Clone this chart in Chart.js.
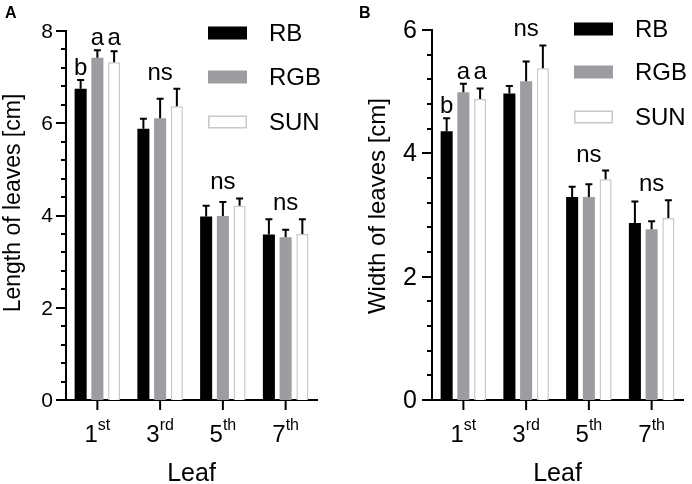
<!DOCTYPE html>
<html>
<head>
<meta charset="utf-8">
<script src="https://cdn.jsdelivr.net/npm/chart.js@4.4.0/dist/chart.umd.min.js"></script>
<style>
  body { margin: 0; background: #fff; }
  .wrap { position: relative; width: 692px; height: 484px; }
  canvas { position: absolute; top: 0; }
</style>
</head>
<body>
<div class="wrap">
  <canvas id="chartA" width="346" height="484" style="left:0;width:346px;height:484px"></canvas>
  <canvas id="chartB" width="346" height="484" style="left:346px;width:346px;height:484px"></canvas>
</div>
<script>
// leaf number + ordinal suffix (drawn as superscript)
const leaves = ['1', '3', '5', '7'];
const suffixes = ['st', 'rd', 'th', 'th'];
const groups = ['RB', 'RGB', 'SUN'];

// panel A: length of leaves [cm]
const lengthRB = [6.75, 5.88, 3.98, 3.59];
const lengthRGB = [7.42, 6.11, 3.99, 3.53];
const lengthSUN = [7.32, 6.37, 4.21, 3.60];
const lengthErrRB = [0.19, 0.22, 0.23, 0.33];
const lengthErrRGB = [0.16, 0.42, 0.30, 0.16];
const lengthErrSUN = [0.24, 0.38, 0.16, 0.32];
const lengthLetters = [['b', 'a', 'a'], ['ns'], ['ns'], ['ns']];
const lengthTicks = [0, 2, 4, 6, 8];

// panel B: width of leaves [cm]
const widthRB = [4.36, 4.97, 3.29, 2.87];
const widthRGB = [4.99, 5.17, 3.29, 2.77];
const widthSUN = [4.88, 5.38, 3.58, 2.95];
const widthErrRB = [0.21, 0.12, 0.17, 0.35];
const widthErrRGB = [0.14, 0.32, 0.21, 0.13];
const widthErrSUN = [0.17, 0.37, 0.14, 0.29];
const widthLetters = [['b', 'a', 'a'], ['ns'], ['ns'], ['ns']];
const widthTicks = [0, 2, 4, 6];

const minorStep = 0.4;
const FONT = "'Liberation Sans', Arial, sans-serif";
const fills = ['#000000', '#9d9da1', '#ffffff'];
const borders = ['#000000', '#9d9da1', '#c8c8c8'];

function panelPlugin(p) {
  return {
    id: 'panel' + p.label,
    afterDatasetsDraw(chart) {
      const ctx = chart.ctx;
      const area = chart.chartArea;
      const x = chart.scales.x;
      const y = chart.scales.y;
      ctx.save();

      // error bars (upper only)
      ctx.strokeStyle = '#000';
      ctx.lineWidth = 2;
      const tops = [];
      chart.data.datasets.forEach((ds, i) => {
        const meta = chart.getDatasetMeta(i);
        tops[i] = [];
        meta.data.forEach((bar, j) => {
          const yTop = y.getPixelForValue(ds.data[j] + p.errs[i][j]);
          tops[i][j] = yTop;
          ctx.beginPath();
          ctx.moveTo(bar.x, bar.y);
          ctx.lineTo(bar.x, yTop);
          ctx.moveTo(bar.x - 3.5, yTop);
          ctx.lineTo(bar.x + 3.5, yTop);
          ctx.stroke();
        });
      });

      // significance letters
      ctx.fillStyle = '#000';
      ctx.font = '24px ' + FONT;
      ctx.textAlign = 'center';
      ctx.textBaseline = 'alphabetic';
      p.letters.forEach((lst, j) => {
        if (lst.length === 1) {
          const top = Math.min(tops[0][j], tops[1][j], tops[2][j]);
          const mx = chart.getDatasetMeta(1).data[j].x;
          ctx.fillText(lst[0], mx, top - 9);
        } else {
          lst.forEach((t, i) => {
            let top = tops[i][j];
            lst.forEach((u, k) => { if (u === t) top = Math.min(top, tops[k][j]); });
            ctx.fillText(t, chart.getDatasetMeta(i).data[j].x, top - 5);
          });
        }
      });

      // y ticks
      ctx.lineWidth = 2;
      const ymax = y.max;
      for (let k = 0; k * minorStep <= ymax + 1e-9; k++) {
        const v = k * minorStep;
        const py = Math.round(y.getPixelForValue(v));
        const major = p.ticks.some(t => Math.abs(t - v) < 1e-6);
        ctx.beginPath();
        ctx.moveTo(area.left - (major ? 10 : 5), py);
        ctx.lineTo(area.left, py);
        ctx.stroke();
      }
      ctx.font = p.tickFont + 'px ' + FONT;
      ctx.textAlign = 'right';
      ctx.textBaseline = 'middle';
      p.ticks.forEach(t => {
        ctx.fillText(String(t), area.left - p.tickPad, y.getPixelForValue(t) + 1);
      });

      // x ticks with superscript ordinals
      leaves.forEach((lf, j) => {
        const px = x.getPixelForValue(j);
        ctx.beginPath();
        ctx.moveTo(px, area.bottom);
        ctx.lineTo(px, area.bottom + 10);
        ctx.stroke();
        ctx.textBaseline = 'alphabetic';
        ctx.textAlign = 'left';
        ctx.font = '24px ' + FONT;
        const w1 = ctx.measureText(lf).width;
        ctx.font = '16px ' + FONT;
        const w2 = ctx.measureText(suffixes[j]).width;
        const sx = px - (w1 + w2) / 2;
        ctx.font = '24px ' + FONT;
        ctx.fillText(lf, sx, 442);
        ctx.font = '16px ' + FONT;
        ctx.fillText(suffixes[j], sx + w1, 430);
      });

      // axis titles
      ctx.font = '25px ' + FONT;
      ctx.textAlign = 'center';
      ctx.textBaseline = 'alphabetic';
      ctx.fillText('Leaf', (area.left + area.right) / 2, 481);
      ctx.save();
      ctx.font = p.yTitleFont + 'px ' + FONT;
      ctx.translate(p.yTitleX, p.yTitleY);
      ctx.rotate(-Math.PI / 2);
      ctx.textBaseline = 'middle';
      ctx.fillText(p.yTitle, 0, 0);
      ctx.restore();

      // legend
      chart.data.datasets.forEach((ds, i) => {
        const cy = p.legendY[i];
        ctx.fillStyle = fills[i];
        ctx.fillRect(p.legendX, cy - 6.5, 39, 13);
        if (i === 2) {
          ctx.strokeStyle = borders[2];
          ctx.lineWidth = 1.5;
          ctx.strokeRect(p.legendX + 0.75, cy - 5.75, 37.5, 11.5);
        }
        ctx.fillStyle = '#000';
        ctx.font = '24px ' + FONT;
        ctx.textAlign = 'left';
        ctx.textBaseline = 'middle';
        ctx.fillText(ds.label, p.legendX + 61, cy + 1);
      });

      // panel label
      ctx.font = 'bold 16px ' + FONT;
      ctx.textAlign = 'left';
      ctx.textBaseline = 'alphabetic';
      ctx.fillText(p.label, p.labelX, 18);
      ctx.restore();
    }
  };
}

function makeChart(id, values, p) {
  const datasets = groups.map((g, i) => ({
    label: g,
    data: values[i],
    backgroundColor: fills[i],
    borderColor: borders[i],
    borderWidth: i === 2 ? 1.5 : 0,
    categoryPercentage: 0.8,
    barPercentage: 0.72
  }));
  return new Chart(document.getElementById(id), {
    type: 'bar',
    data: { labels: leaves.map((l, j) => l + suffixes[j]), datasets: datasets },
    options: {
      responsive: false,
      animation: false,
      events: [],
      layout: { padding: { left: 0, right: p.padRight, top: p.padTop, bottom: 0 } },
      plugins: { legend: { display: false }, tooltip: { enabled: false } },
      scales: {
        x: {
          offset: true,
          grid: { display: false },
          border: { display: true, color: '#000', width: 2 },
          ticks: { display: false },
          afterFit: s => { s.height = 84; }
        },
        y: {
          min: 0,
          max: p.max,
          grid: { display: false },
          border: { display: true, color: '#000', width: 2 },
          ticks: { display: false },
          afterFit: s => { s.width = p.left; }
        }
      }
    },
    plugins: [panelPlugin(p)]
  });
}

makeChart('chartA', [lengthRB, lengthRGB, lengthSUN], {
  label: 'A', labelX: 5, max: 8, ticks: lengthTicks, tickFont: 21, tickPad: 13,
  errs: [lengthErrRB, lengthErrRGB, lengthErrSUN], letters: lengthLetters,
  yTitle: 'Length of leaves [cm]', yTitleX: 14, yTitleY: 203, yTitleFont: 23,
  left: 66, padRight: 29, padTop: 31,
  legendX: 208, legendY: [33, 77, 122]
});

makeChart('chartB', [widthRB, widthRGB, widthSUN], {
  label: 'B', labelX: 13, max: 6, ticks: widthTicks, tickFont: 25, tickPad: 15,
  errs: [widthErrRB, widthErrRGB, widthErrSUN], letters: widthLetters,
  yTitle: 'Width of leaves [cm]', yTitleX: 32, yTitleY: 206, yTitleFont: 24,
  left: 86, padRight: 9, padTop: 30,
  legendX: 228, legendY: [29, 72, 117]
});
</script>
</body>
</html>
